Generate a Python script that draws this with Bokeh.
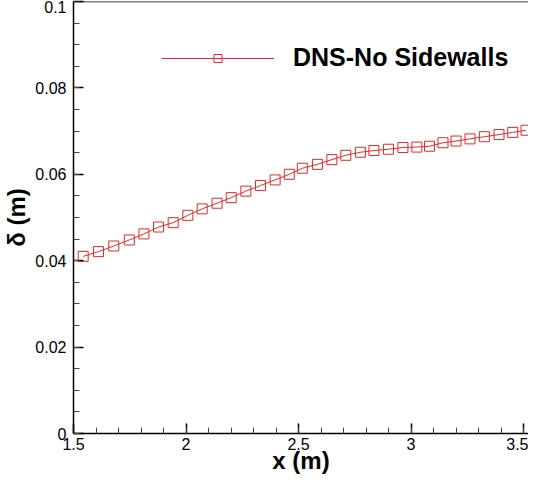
from bokeh.plotting import figure
from bokeh.models import (Range1d, SingleIntervalTicker, CustomJSTickFormatter,
                          Legend, LegendItem, ColumnDataSource, Span)
from bokeh.embed import file_html
from bokeh.resources import INLINE

# Data
x_m = [1.543, 1.611, 1.679, 1.748, 1.813, 1.878, 1.943, 2.008, 2.072, 2.138,
       2.201, 2.266, 2.331, 2.396, 2.459, 2.517, 2.584, 2.648, 2.710, 2.775,
       2.835, 2.900, 2.964, 3.026, 3.082, 3.142, 3.200, 3.262, 3.326, 3.391,
       3.452, 3.511]
delta_m = [0.0410, 0.0421, 0.0434, 0.0448, 0.0462, 0.0478, 0.0488, 0.0505, 0.0520, 0.0533,
           0.0546, 0.0561, 0.0574, 0.0587, 0.0600, 0.0614, 0.0623, 0.0634, 0.0644, 0.0651,
           0.0655, 0.0658, 0.0662, 0.0663, 0.0665, 0.0673, 0.0677, 0.0682, 0.0687, 0.0692,
           0.0697, 0.0702]
series_label = "DNS-No Sidewalls"
x_label = "x (m)"
y_label = "\u03b4 (m)"
X_MIN, X_MAX = 1.5, 3.522
Y_MIN, Y_MAX = 0.0, 0.1

src = ColumnDataSource(dict(x=x_m, y=delta_m))

p = figure(width=528, height=478, output_backend="svg", toolbar_location=None,
           x_range=Range1d(X_MIN, X_MAX), y_range=Range1d(Y_MIN, Y_MAX),
           min_border_left=67, min_border_right=0, min_border_top=1, min_border_bottom=45)
p.background_fill_color = "white"
p.border_fill_color = "white"
p.outline_line_color = None
p.grid.visible = False

# top frame line (no right frame line, as in the reference)
p.add_layout(Span(location=Y_MAX, dimension="width", line_color="black", line_width=1.5))

RED = "#e42a2a"
ln = p.line("x", "y", source=src, line_color=RED, line_width=1)
mk = p.scatter("x", "y", source=src, marker="square", size=10,
               fill_color=None, line_color=RED, line_width=1)

fmt = CustomJSTickFormatter(code="return parseFloat(tick.toFixed(4)).toString();")
for ax, tk in ((p.xaxis[0], SingleIntervalTicker(interval=0.5, num_minor_ticks=5)),
               (p.yaxis[0], SingleIntervalTicker(interval=0.02, num_minor_ticks=4))):
    ax.ticker = tk
    ax.formatter = fmt
    ax.major_tick_in = 10
    ax.major_tick_out = 0
    ax.minor_tick_in = 6
    ax.minor_tick_out = 0
    ax.axis_line_width = 1.5
    ax.axis_line_color = "black"
    ax.major_tick_line_color = "black"
    ax.major_tick_line_width = 1.5
    ax.minor_tick_line_color = "#444444"
    ax.major_label_text_font = "Liberation Sans"
    ax.major_label_text_font_size = "16px"
    ax.major_label_text_color = "black"
    ax.axis_label_text_font = "Liberation Sans"
    ax.axis_label_text_font_style = "bold"
    ax.axis_label_text_font_size = "24px"
    ax.axis_label_text_color = "black"

p.xaxis[0].axis_label = x_label
p.xaxis[0].major_label_standoff = 4
p.xaxis[0].axis_label_standoff = -6
p.yaxis[0].axis_label = y_label
p.yaxis[0].major_label_standoff = 7
p.yaxis[0].axis_label_standoff = 2

legend = Legend(items=[LegendItem(label=series_label, renderers=[ln, mk])],
                location=(88, 361), glyph_width=113, glyph_height=20,
                label_standoff=19, padding=0, margin=0, spacing=0,
                border_line_color=None, background_fill_alpha=0,
                label_text_font="Liberation Sans", label_text_font_style="bold",
                label_text_font_size="25px", label_text_color="black")
p.add_layout(legend)

open("out.html", "w").write(file_html(p, INLINE))
